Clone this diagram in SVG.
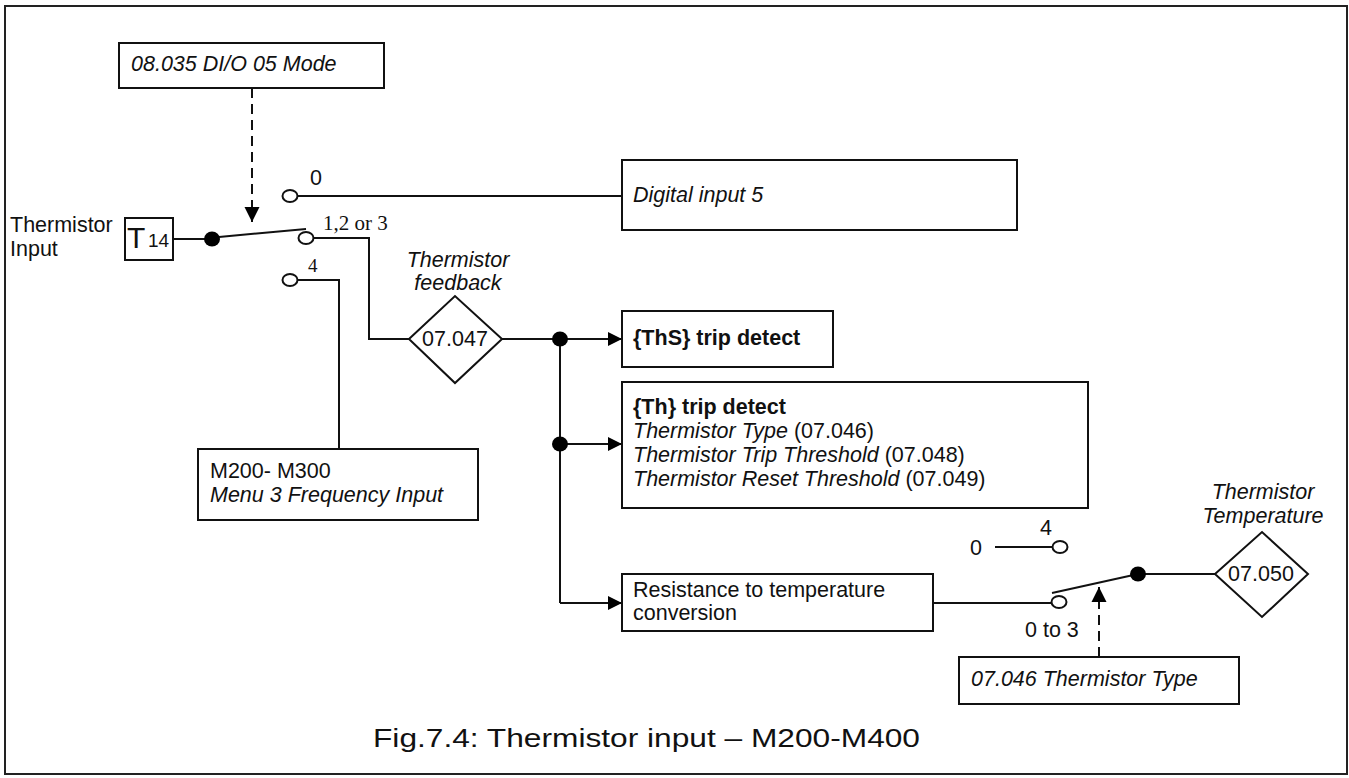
<svg xmlns="http://www.w3.org/2000/svg" width="1349" height="778" viewBox="0 0 1349 778">
<style>
text{font-family:"Liberation Sans",Arial,sans-serif;font-size:21.5px;fill:#111}
.i{font-style:italic}
.b{font-weight:bold}
.m{text-anchor:middle}
.serif{font-family:"Liberation Serif","Times New Roman",serif}
.box{fill:#fff;stroke:#111;stroke-width:2}
.ln{fill:none;stroke:#111;stroke-width:2}
.dash{fill:none;stroke:#111;stroke-width:2;stroke-dasharray:10 6}
.oc{fill:#fff;stroke:#111;stroke-width:2}
.dot{fill:#000}
</style>
<defs>
<marker id="arr" viewBox="0 0 10 10" refX="10" refY="5" markerWidth="17" markerHeight="14" markerUnits="userSpaceOnUse" orient="auto">
<path d="M0,0 L10,5 L0,10 z" fill="#000"/>
</marker>
<marker id="arrd" viewBox="0 0 10 10" refX="10" refY="5" markerWidth="15" markerHeight="17" markerUnits="userSpaceOnUse" orient="auto">
<path d="M0,0 L10,5 L0,10 z" fill="#000"/>
</marker>
</defs>
<rect x="5" y="6" width="1342" height="768" fill="#fff" stroke="#222" stroke-width="2"/>

<g id="connectors">
<path class="dash" d="M252,88 V222" marker-end="url(#arrd)"/>
<path class="ln" d="M297,196 H622"/>
<path class="ln" d="M173,239 H212"/>
<path class="ln" d="M219,237 L306,229"/>
<path class="ln" d="M313,238 H369 V339 H409"/>
<path class="ln" d="M297,280 H339 V449"/>
<path class="ln" d="M502,339 H560"/>
<path class="ln" d="M560,339 H622" marker-end="url(#arr)"/>
<path class="ln" d="M560,339 V603"/>
<path class="ln" d="M560,444 H622" marker-end="url(#arr)"/>
<path class="ln" d="M560,603 H622" marker-end="url(#arr)"/>
<path class="ln" d="M933,603 H1052"/>
<path class="ln" d="M995,547 H1053"/>
<path class="ln" d="M1052,593 L1138,574"/>
<path class="ln" d="M1138,574 H1215"/>
<path class="dash" d="M1099,657 V587" marker-end="url(#arrd)"/>
<ellipse class="dot" cx="560" cy="339" rx="8" ry="7.5"/>
<ellipse class="dot" cx="560" cy="444" rx="8" ry="7.5"/>
</g>

<g id="switch1">
<ellipse class="dot" cx="212" cy="239" rx="8" ry="7.5"/>
<ellipse class="oc" cx="290" cy="196" rx="7.5" ry="6"/>
<ellipse class="oc" cx="306" cy="238" rx="7.5" ry="6"/>
<ellipse class="oc" cx="290" cy="280" rx="7.5" ry="6"/>
<text x="310" y="185">0</text>
<text class="serif" x="323" y="230" style="font-size:21px">1,2 or 3</text>
<text class="serif" x="308" y="272" style="font-size:19px">4</text>
</g>

<g id="switch2">
<ellipse class="dot" cx="1138" cy="574" rx="8" ry="7.5"/>
<ellipse class="oc" cx="1060" cy="547" rx="7.5" ry="6"/>
<ellipse class="oc" cx="1059" cy="602" rx="7.5" ry="6"/>
<text x="970" y="555">0</text>
<text x="1040" y="535">4</text>
<text x="1025" y="637">0 to 3</text>
</g>

<g id="mode-box">
<rect class="box" x="119" y="43" width="265" height="45"/>
<text class="i" x="131" y="71">08.035 DI/O 05 Mode</text>
</g>

<g id="thermistor-input">
<text x="10" y="232">Thermistor</text>
<text x="10" y="256">Input</text>
<rect class="box" x="125" y="218" width="48" height="42"/>
<text x="127" y="248" style="font-size:30px">T</text>
<text x="148" y="247" style="font-size:19px">14</text>
</g>

<g id="digital-input">
<rect class="box" x="622" y="160" width="395" height="70"/>
<text class="i" x="633" y="202">Digital input 5</text>
</g>

<g id="feedback">
<text class="i m" x="458" y="267">Thermistor</text>
<text class="i m" x="458" y="290">feedback</text>
<polygon class="box" points="409,339 455,296 502,339 455,383"/>
<text class="m" x="455" y="346">07.047</text>
</g>

<g id="ths-trip">
<rect class="box" x="622" y="311" width="211" height="56"/>
<text class="b" x="633" y="345">{ThS} trip detect</text>
</g>

<g id="th-trip">
<rect class="box" x="622" y="382" width="466" height="126"/>
<text class="b" x="633" y="414">{Th} trip detect</text>
<text x="633" y="438"><tspan class="i">Thermistor Type</tspan> (07.046)</text>
<text x="633" y="462"><tspan class="i">Thermistor Trip Threshold</tspan> (07.048)</text>
<text x="633" y="486"><tspan class="i">Thermistor Reset Threshold</tspan> (07.049)</text>
</g>

<g id="freq-input">
<rect class="box" x="198" y="449" width="280" height="71"/>
<text x="210" y="478">M200- M300</text>
<text class="i" x="210" y="502">Menu 3 Frequency Input</text>
</g>

<g id="conversion">
<rect class="box" x="622" y="574" width="311" height="57"/>
<text x="633" y="597">Resistance to temperature</text>
<text x="633" y="620">conversion</text>
</g>

<g id="temperature">
<text class="i m" x="1263" y="499">Thermistor</text>
<text class="i m" x="1263" y="523">Temperature</text>
<polygon class="box" points="1215,574 1262,532 1308,574 1262,617"/>
<text class="m" x="1261" y="581">07.050</text>
</g>

<g id="type-box">
<rect class="box" x="959" y="657" width="280" height="47"/>
<text class="i" x="971" y="686">07.046 Thermistor Type</text>
</g>

<text x="373" y="747" style="font-size:25px" textLength="547" lengthAdjust="spacingAndGlyphs">Fig.7.4: Thermistor input – M200-M400</text>
</svg>
